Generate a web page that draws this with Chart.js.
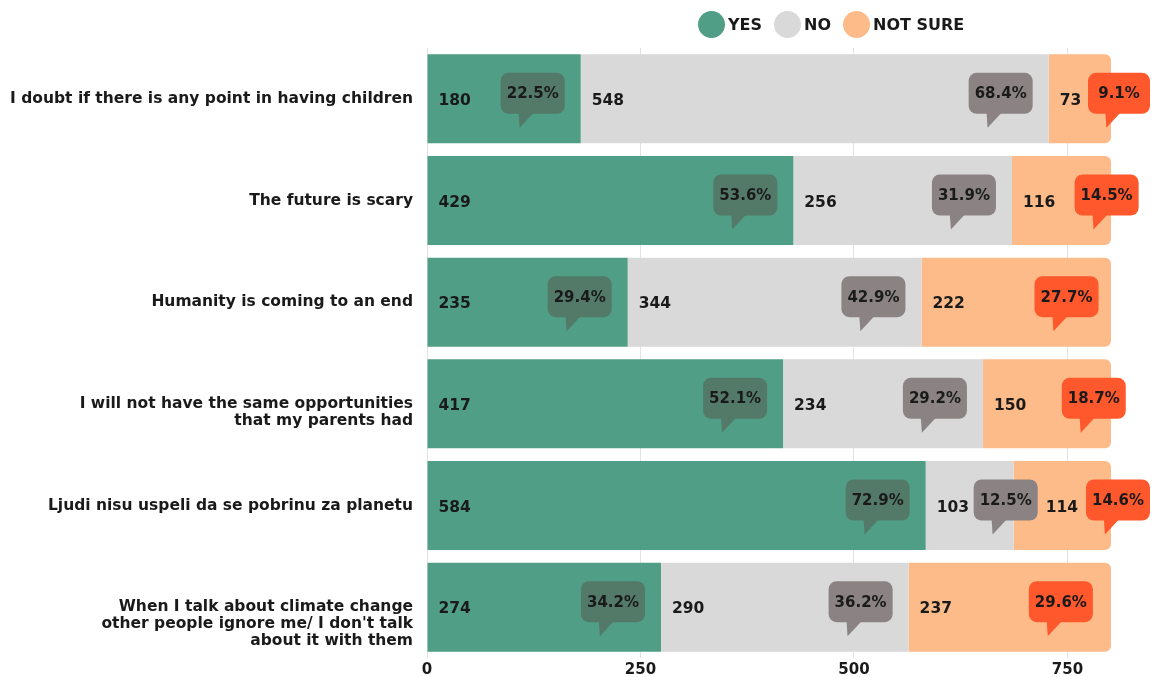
<!DOCTYPE html>
<html>
<head>
<meta charset="utf-8">
<script src="https://cdn.jsdelivr.net/npm/chart.js@4"></script>
<style>
  body { margin: 0; background: #fff; font-family: "DejaVu Sans", sans-serif; }
  #wrap { position: relative; width: 1154px; height: 677px; }
  #legend { position: absolute; left: 698px; top: 11px; display: flex; align-items: center; font-weight: bold; font-size: 16px; color: #1a1a1a; }
  #legend .dot { width: 27px; height: 27px; border-radius: 50%; margin-right: 3px; }
  #legend .item { display: flex; align-items: center; margin-right: 12px; }
</style>
</head>
<body>
<div id="wrap">
  <canvas id="chart" width="1154" height="677"></canvas>
  <div id="legend"></div>
</div>
<script>
const categories = [
    'I doubt if there is any point in having children',
    'The future is scary',
    'Humanity is coming to an end',
    ['I will not have the same opportunities', 'that my parents had'],
    'Ljudi nisu uspeli da se pobrinu za planetu',
    ['When I talk about climate change', "other people ignore me/ I don't talk", 'about it with them']
];
const seriesNames = ['YES', 'NO', 'NOT SURE'];
const yesCounts = [180, 429, 235, 417, 584, 274];
const noCounts = [548, 256, 344, 234, 103, 290];
const notSureCounts = [73, 116, 222, 150, 114, 237];
const yesPct = [22.5, 53.6, 29.4, 52.1, 72.9, 34.2];
const noPct = [68.4, 31.9, 42.9, 29.2, 12.5, 36.2];
const notSurePct = [9.1, 14.5, 27.7, 18.7, 14.6, 29.6];
const xTicks = [0, 250, 500, 750];

const barColors = ['#4f9e85', '#d9d9d9', '#fdbb89'];
const bubbleColors = ['#537a69', '#8b8383', '#fe582c'];
const pcts = [yesPct, noPct, notSurePct];
const FONT = '"DejaVu Sans", sans-serif';
const COUNT_FONT = 'bold 15.5px ' + FONT;
const BUBBLE_FONT = 'bold 15px ' + FONT;

// HTML legend
const legend = document.getElementById('legend');
seriesNames.forEach((name, i) => {
    legend.innerHTML += `<div class="item"><div class="dot" style="background:${barColors[i]}"></div>${name}</div>`;
});

function pctText(i, j) {
    return pcts[i][j].toFixed(1) + '%';
}

function bubbleWidth(ctx, text) {
    ctx.font = BUBBLE_FONT;
    return Math.max(ctx.measureText(text).width + 12, 62);
}

// work out where counts and bubbles go for one row
function rowLayout(chart, ctx, j) {
    const out = [];
    let prevBubbleRight = -Infinity;
    chart.data.datasets.forEach((ds, i) => {
        const el = chart.getDatasetMeta(i).data[j];
        const start = el.base, end = el.x, w = end - start;
        const text = String(ds.data[j]);
        ctx.font = COUNT_FONT;
        const lx = Math.max(start + 11, prevBubbleRight + 8);
        const labelEnd = lx + ctx.measureText(text).width;
        const ptext = pctText(i, j);
        const bw = bubbleWidth(ctx, ptext);
        let cx;
        if (i < 2) cx = Math.max(end - 48, start + 80);
        else cx = Math.max(start + 0.557 * w + 39.5, labelEnd + 45);
        // keep inside the canvas
        cx = Math.min(cx, chart.width - 4 - bw / 2);
        prevBubbleRight = cx + bw / 2;
        out.push({ el, text, lx, cx, bw, ptext, color: bubbleColors[i] });
    });
    return out;
}

function drawBubble(ctx, cx, cy, w, text, color) {
    const h = 41;
    const x = cx - w / 2, y = cy - 26;
    ctx.fillStyle = color;
    ctx.beginPath();
    ctx.roundRect(x, y, w, h, 8);
    ctx.fill();
    const tx = x + w * 0.28;
    ctx.beginPath();
    ctx.moveTo(tx, y + h - 1);
    ctx.lineTo(tx + 1, y + h + 14);
    ctx.lineTo(tx + 15, y + h - 1);
    ctx.closePath();
    ctx.fill();
    ctx.font = BUBBLE_FONT;
    ctx.fillStyle = '#1a1a1a';
    ctx.textAlign = 'center';
    ctx.textBaseline = 'middle';
    ctx.fillText(text, cx, y + h / 2 + 1);
}

const labelPlugin = {
    id: 'barLabels',
    afterDatasetsDraw(chart) {
        const ctx = chart.ctx;
        ctx.save();
        const rows = chart.data.labels.map((_, j) => rowLayout(chart, ctx, j));
        rows.forEach(row => row.forEach(item => {
            ctx.font = COUNT_FONT;
            ctx.fillStyle = '#1a1a1a';
            ctx.textAlign = 'left';
            ctx.textBaseline = 'middle';
            ctx.fillText(item.text, item.lx, item.el.y + 2);
        }));
        rows.forEach(row => row.forEach(item => {
            drawBubble(ctx, item.cx, item.el.y, item.bw, item.ptext, item.color);
        }));
        ctx.restore();
    }
};

const counts = [yesCounts, noCounts, notSureCounts];
const datasets = seriesNames.map((name, i) => ({
    label: name,
    data: counts[i],
    backgroundColor: barColors[i],
    borderWidth: 0,
    borderRadius: i === 2 ? 6 : 0,
    borderSkipped: 'start',
    barPercentage: 0.875,
    categoryPercentage: 1
}));

new Chart(document.getElementById('chart'), {
    type: 'bar',
    data: { labels: categories, datasets: datasets },
    options: {
        indexAxis: 'y',
        responsive: false,
        animation: false,
        layout: { padding: { top: 48, right: 43, bottom: 0, left: 0 } },
        plugins: { legend: { display: false }, tooltip: { enabled: false } },
        scales: {
            x: {
                stacked: true,
                min: 0,
                max: 801,
                afterBuildTicks(scale) { scale.ticks = xTicks.map(v => ({ value: v })); },
                afterFit(scale) { scale.height = 19; },
                grid: { color: '#e2e2e2', drawTicks: false },
                border: { display: false },
                ticks: { padding: 3, color: '#1a1a1a', font: { family: FONT, size: 15, weight: 'bold' } }
            },
            y: {
                stacked: true,
                afterFit(scale) {
                    scale.width = 427;
                    scale.paddingTop = 0;
                    scale.paddingBottom = 0;
                },
                grid: { display: false, drawTicks: false },
                border: { display: false },
                ticks: {
                    padding: 14,
                    color: '#1a1a1a',
                    font: { family: FONT, size: 15.5, weight: 'bold', lineHeight: 1.1 },
                    callback(value, index) {
                        const l = categories[index];
                        // first line on the bar centre, extra lines below
                        if (Array.isArray(l)) return [...Array(l.length - 1).fill(''), ...l];
                        return l;
                    }
                }
            }
        }
    },
    plugins: [labelPlugin]
});
</script>
</body>
</html>
